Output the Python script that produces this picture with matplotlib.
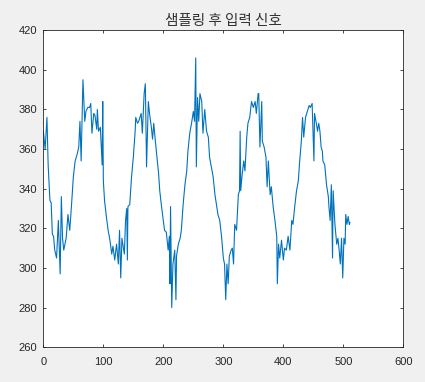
import numpy as np
import matplotlib
matplotlib.use('Agg')
import matplotlib.pyplot as plt

# sample index / value
sample = [0, 3, 6, 8, 11, 13, 15, 17, 19, 22, 25, 28, 30, 32, 34, 38, 41, 44, 47, 50,
          53, 56, 59, 61, 63, 66, 69, 71, 74, 77, 79, 81, 84, 86, 89, 90, 92, 95, 98, 99,
          100, 102, 105, 108, 111, 114, 116, 119, 122, 125, 127, 129, 131, 135, 137, 139, 140, 141, 144, 147,
          150, 153, 154, 157, 159, 163, 165, 168, 170, 172, 175, 177, 180, 182, 184, 187, 190, 192, 194, 197,
          200, 202, 205, 208, 210, 211, 212, 214, 216, 219, 221, 222, 225, 228, 230, 233, 236, 239, 241, 244,
          247, 250, 252, 254, 255, 257, 259, 261, 264, 266, 269, 272, 275, 277, 280, 283, 286, 289, 291, 294,
          297, 300, 302, 304, 306, 308, 310, 313, 315, 317, 319, 322, 325, 327, 328, 329, 331, 334, 336, 339,
          341, 344, 347, 350, 353, 355, 358, 359, 361, 364, 365, 368, 371, 373, 375, 378, 380, 383, 386, 389,
          390, 392, 394, 397, 400, 402, 405, 408, 411, 414, 416, 419, 422, 425, 427, 430, 432, 434, 437, 440,
          443, 445, 448, 451, 452, 455, 457, 459, 461, 463, 465, 466, 469, 472, 475, 476, 478, 480, 482, 483,
          486, 489, 491, 493, 495, 497, 499, 501, 503, 504, 506, 508, 510, 511]
value = [369, 360, 376, 352, 334, 333, 317, 316, 309, 305, 324, 297, 336, 315, 309, 315, 327, 319, 332, 346,
         354, 357, 361, 374, 354, 395, 374, 379, 381, 381, 383, 368, 378, 377, 370, 380, 369, 371, 352, 384,
         344, 334, 326, 319, 314, 307, 311, 304, 312, 302, 319, 295, 315, 307, 324, 330, 304, 331, 332, 346,
         356, 369, 376, 373, 374, 378, 368, 388, 393, 351, 384, 378, 371, 365, 373, 363, 354, 348, 339, 331,
         324, 319, 318, 309, 316, 292, 331, 280, 302, 309, 284, 306, 312, 315, 319, 332, 342, 349, 359, 368,
         373, 379, 374, 406, 351, 386, 374, 388, 384, 368, 380, 369, 366, 356, 351, 346, 337, 331, 327, 324,
         316, 305, 302, 284, 302, 292, 306, 309, 310, 302, 322, 319, 337, 339, 369, 339, 346, 354, 349, 366,
         373, 376, 384, 381, 384, 378, 388, 388, 361, 384, 364, 361, 356, 341, 354, 337, 341, 331, 324, 316,
         292, 312, 305, 314, 304, 310, 309, 316, 309, 324, 322, 331, 339, 344, 353, 364, 376, 366, 376, 379,
         382, 381, 383, 354, 378, 373, 369, 373, 369, 361, 359, 354, 352, 342, 336, 331, 324, 342, 305, 339,
         322, 312, 315, 309, 302, 315, 295, 315, 312, 327, 322, 326, 322, 323]

title = '샘플링 후 입력 신호'
xticks = [0, 100, 200, 300, 400, 500, 600]
yticks = [260, 280, 300, 320, 340, 360, 380, 400, 420]

plt.rcParams['font.family'] = ['Liberation Sans', 'DejaVu Sans']

fig = plt.figure(figsize=(4.25, 3.82), dpi=100, facecolor='#f0f0f0')
ax = fig.add_axes([0.102, 0.091, 0.847, 0.830])
ax.plot(sample, value, color='#0072bd', lw=0.8)

ax.set_xlim(0, 600)
ax.set_ylim(260, 420)
ax.set_xticks(xticks)
ax.set_yticks(yticks)
ax.tick_params(direction='in', length=2.5, width=0.6, top=True, right=True,
               labelsize=8, colors='#262626')
ax.tick_params(axis='x', pad=7)
ax.tick_params(axis='y', pad=4.5)
for s in ax.spines.values():
    s.set_linewidth(0.6)
    s.set_color('#262626')

ax.set_title(title, family=['Noto Sans CJK KR', 'DejaVu Sans'], fontsize=10.5,
             fontweight='light', color='#333333', pad=4)

fig.savefig('out.png', dpi=100, facecolor=fig.get_facecolor())
